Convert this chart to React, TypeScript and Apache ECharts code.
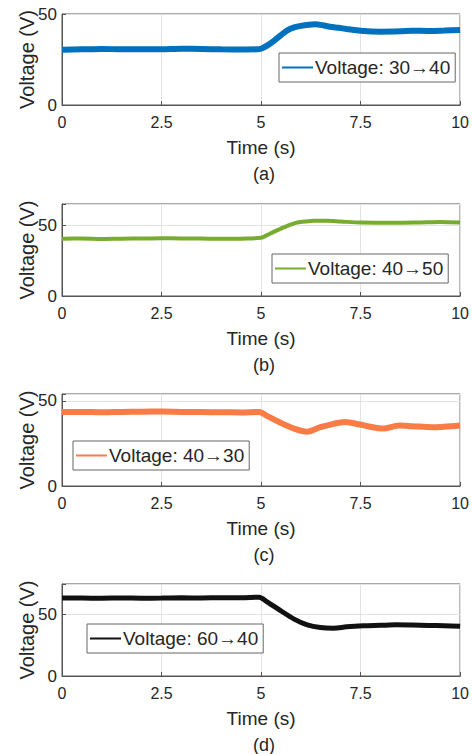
import React, { useEffect, useRef } from "react";
import * as echarts from "echarts";

// ---- Data ----
const xTicks = ["0", "2.5", "5", "7.5", "10"];

const timeA = [0, 0.5, 1, 1.5, 2, 2.5, 3, 3.5, 4, 4.5, 4.9, 5.0, 5.15, 5.33, 5.5, 5.66, 5.83, 6.0, 6.2, 6.36, 6.55, 6.73, 6.95, 7.15, 7.5, 8.0, 8.5, 8.8, 9.2, 9.6, 10];
const voltA = [30.4, 30.6, 30.8, 30.6, 30.7, 30.6, 30.9, 30.8, 30.6, 30.5, 30.6, 30.9, 32.6, 35.4, 38.4, 41.0, 42.6, 43.5, 44.1, 44.3, 43.8, 43.0, 42.4, 41.8, 40.8, 40.3, 40.5, 40.8, 40.7, 40.9, 41.2];

const timeB = [0, 0.5, 1, 1.5, 2, 2.5, 3, 3.5, 4, 4.5, 5.0, 5.15, 5.33, 5.5, 5.66, 5.8, 5.91, 6.1, 6.32, 6.65, 7.0, 7.52, 8.0, 8.4, 9.0, 9.5, 10];
const voltB = [40.5, 40.6, 40.3, 40.5, 40.6, 40.8, 40.7, 40.6, 40.4, 40.5, 41.1, 43.0, 45.5, 47.6, 49.6, 51.0, 51.9, 52.6, 53.1, 53.1, 52.6, 51.9, 51.8, 51.7, 52.0, 52.3, 51.9];

const timeC = [0, 0.5, 1, 1.5, 2, 2.5, 3, 3.5, 4, 4.5, 4.95, 5.16, 5.49, 5.83, 6.16, 6.49, 6.82, 7.11, 7.48, 7.81, 8.06, 8.47, 8.8, 9.3, 9.6, 10];
const voltC = [43.4, 43.5, 43.3, 43.5, 43.6, 43.7, 43.5, 43.4, 43.3, 43.2, 43.5, 41.0, 37.1, 33.7, 31.9, 34.5, 36.5, 37.5, 36.1, 34.5, 33.7, 35.5, 35.1, 34.5, 34.8, 35.5];

const timeD = [0, 0.5, 1, 1.5, 2, 2.5, 3, 3.5, 4, 4.5, 4.95, 5.16, 5.49, 5.83, 6.16, 6.49, 6.82, 7.15, 7.56, 8.0, 8.39, 8.8, 9.21, 9.6, 10];
const voltD = [63.6, 63.5, 63.4, 63.6, 63.4, 63.5, 63.7, 63.6, 63.8, 63.8, 64.2, 60.3, 53.3, 46.4, 41.7, 39.5, 39.0, 40.1, 40.9, 41.3, 41.7, 41.5, 41.2, 41.0, 40.6];

const seriesNames = ["Voltage: 30→40", "Voltage: 40→50", "Voltage: 40→30", "Voltage: 60→40"];
const seriesColors = ["#0072BD", "#77AC30", "#F97C46", "#111111"];
const yMaxes = [50, 65, 54, 75];
const panelLabels = ["(a)", "(b)", "(c)", "(d)"];
const yTitle = "Voltage (V)";
const times = [timeA, timeB, timeC, timeD];
const volts = [voltA, voltB, voltC, voltD];

// ---- Layout ----
const gridTops = [14, 204, 394, 584];
const gridHeights = [91, 92, 92, 92];
const lineWidths = [6, 4, 6, 5];
const legendPos = [
  { left: 279, top: 53 },
  { left: 272, top: 254 },
  { left: 73, top: 441 },
  { left: 87, top: 624 },
];
const labelY = [174, 365, 555, 745];
const FONT = "'Liberation Sans', Arial, sans-serif";
const TEXT = "#262626";

export default function App() {
  const ref = useRef<HTMLDivElement>(null);

  useEffect(() => {
    document.body.style.margin = "0";
    if (!ref.current) return;
    const chart = echarts.init(ref.current, undefined, { renderer: "svg" });

    const grids = gridTops.map((top, i) => ({
      left: 62,
      right: 7,
      top,
      height: gridHeights[i],
      show: true,
      borderColor: "#555",
      borderWidth: 1,
      backgroundColor: "#fff",
    }));

    const xAxes = gridTops.map((_, i) => ({
      type: "value",
      gridIndex: i,
      min: 0,
      max: 10,
      interval: 2.5,
      name: "Time (s)",
      nameLocation: "middle",
      nameGap: 33,
      nameTextStyle: { fontSize: 19, color: TEXT, fontFamily: FONT },
      axisLine: { show: true, lineStyle: { color: "#555" } },
      axisTick: { show: true, inside: true, length: 4, lineStyle: { color: "#555" } },
      axisLabel: {
        fontSize: 16,
        color: TEXT,
        fontFamily: FONT,
        margin: 9,
        formatter: (v: number) => {
          const idx = Math.round(v / 2.5);
          return xTicks[idx] ?? "";
        },
      },
      splitLine: { show: true, lineStyle: { color: "#e3e3e3" } },
    }));

    const yAxes = gridTops.map((_, i) => ({
      type: "value",
      gridIndex: i,
      min: 0,
      max: yMaxes[i],
      interval: 50,
      axisLine: { show: true, lineStyle: { color: "#555" } },
      axisTick: { show: true, inside: true, length: 4, lineStyle: { color: "#555" } },
      axisLabel: {
        fontSize: 17,
        color: TEXT,
        fontFamily: FONT,
        margin: 5,
        formatter: (v: number) => (v % 50 === 0 ? String(v) : ""),
      },
      splitLine: { show: true, lineStyle: { color: "#e3e3e3" } },
    }));

    const series = times.map((t, i) => ({
      type: "line",
      name: seriesNames[i],
      xAxisIndex: i,
      yAxisIndex: i,
      data: t.map((x, j) => [x, volts[i][j]]),
      symbol: "none",
      showSymbol: false,
      smooth: 0.3,
      lineStyle: { color: seriesColors[i], width: lineWidths[i] },
      itemStyle: { color: seriesColors[i] },
    }));

    const legends = legendPos.map((p, i) => ({
      data: [{ name: seriesNames[i], icon: "rect" }],
      left: p.left,
      top: p.top,
      orient: "horizontal",
      itemWidth: 31,
      itemHeight: 2,
      padding: [5, 5, 5, 3],
      borderColor: "#666",
      borderWidth: 1,
      backgroundColor: "#fff",
      selectedMode: false,
      itemStyle: { color: seriesColors[i], borderWidth: 0 },
      textStyle: { fontSize: 19, color: TEXT, fontFamily: FONT, padding: [0, 0, 0, -3] },
    }));

    const panelTexts = panelLabels.map((label, i) => ({
      type: "text",
      x: 264,
      y: labelY[i],
      style: {
        text: label,
        fontSize: 18,
        fontFamily: FONT,
        fill: TEXT,
        align: "center",
        verticalAlign: "middle",
        textAlign: "center",
        textVerticalAlign: "middle",
      },
    }));

    const yTitles = gridTops.map((top, i) => ({
      type: "text",
      x: 27,
      y: top + gridHeights[i] / 2,
      rotation: Math.PI / 2,
      style: {
        text: yTitle,
        fontSize: 20,
        fontFamily: FONT,
        fill: TEXT,
        align: "center",
        verticalAlign: "middle",
        textAlign: "center",
        textVerticalAlign: "middle",
      },
    }));

    chart.setOption({
      animation: false,
      backgroundColor: "#fff",
      grid: grids,
      xAxis: xAxes,
      yAxis: yAxes,
      series,
      legend: legends,
      graphic: [...panelTexts, ...yTitles],
    });

    return () => chart.dispose();
  }, []);

  return <div ref={ref} style={{ width: 472, height: 754 }} />;
}
